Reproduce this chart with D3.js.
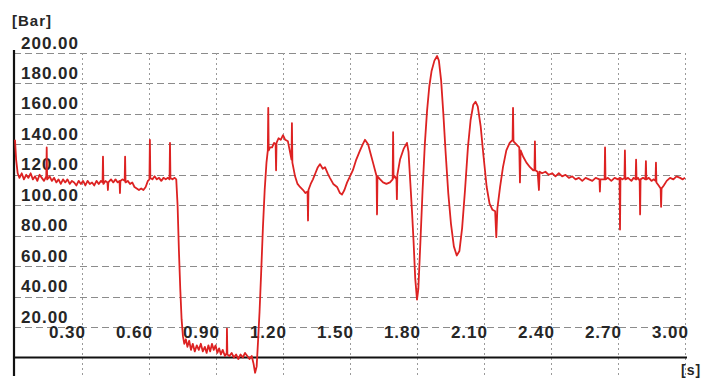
<!DOCTYPE html>
<html lang="en">
<head>
  <meta charset="UTF-8" />
  <title>Pressure trace [Bar] over time [s]</title>
  <script src="https://d3js.org/d3.v7.min.js"></script>
  <style>
    body { margin: 0; background: #fff; }
    svg { display: block; }
    .lbl { font-family: "Liberation Sans", Arial, sans-serif; font-weight: bold; fill: #262626; }
    .grid-h { stroke: #8c8c8c; stroke-width: 1; stroke-dasharray: 7 4; }
    .grid-v { stroke: #9a9a9a; stroke-width: 1; stroke-dasharray: 2 3; }
    .axis-line { stroke: #111; stroke-width: 2.2; }
    .trace { fill: none; stroke: #dd2222; stroke-width: 1.8; stroke-linejoin: round; }
  </style>
</head>
<body>
<div id="chart"></div>

<script>
// Chart size (browser window)
const width = 713, height = 378;

// Tick values
const yTicks = [20, 40, 60, 80, 100, 120, 140, 160, 180, 200];
const xTicks = [0.30, 0.60, 0.90, 1.20, 1.50, 1.80, 2.10, 2.40, 2.70, 3.00];

// Pressure trace, [time s, pressure Bar]
const idleBefore = [
  [0.000,143],[0.005,130],[0.012,121],[0.020,118],[0.030,121],[0.040,117],[0.050,120],[0.060,118],
  [0.070,121],[0.080,117],[0.090,119],[0.100,116],[0.110,120],[0.120,118],[0.130,116],[0.140,119],
  [0.142,138],[0.144,117],[0.155,119],[0.165,116],[0.175,118],[0.185,115],[0.195,117],[0.205,114],
  [0.215,117],[0.225,115],[0.235,117],[0.245,114],[0.255,116],[0.265,115],[0.275,113],[0.285,116],
  [0.295,114],[0.305,116],[0.315,113],[0.325,116],[0.335,114],[0.345,115],[0.355,113],[0.365,116],
  [0.375,114],[0.385,116],[0.392,115],[0.394,132],[0.396,114],[0.405,116],[0.414,115],[0.416,110],
  [0.418,115],[0.430,117],[0.440,115],[0.450,117],[0.460,115],[0.468,116],[0.470,108],[0.472,116],
  [0.482,117],[0.491,116],[0.493,132],[0.495,115],[0.505,116],[0.515,114],[0.525,115],[0.535,112],
  [0.545,111],[0.555,110],[0.565,111],[0.575,110],[0.585,112],[0.595,116],[0.602,117],[0.604,143],
  [0.606,118],[0.615,117],[0.625,119],[0.635,117],[0.645,118],[0.655,116],[0.665,118],[0.675,117],
  [0.685,118],[0.692,117],[0.694,141],[0.696,118],[0.705,117],[0.715,118],[0.722,117]
];

const dropPhase = [
  [0.728,100],[0.734,70],[0.740,45],[0.746,25],[0.752,14],[0.758,9],[0.765,12],[0.772,7],
  [0.780,11],[0.788,5],[0.796,9],[0.805,4],[0.814,8],[0.823,5],[0.832,9],[0.841,4],
  [0.850,7],[0.858,3],[0.866,8],[0.874,4],[0.882,9],[0.890,5],[0.898,8],[0.906,3],
  [0.914,6],[0.922,2],[0.930,5],[0.940,1],[0.948,3],[0.949,19],[0.951,2],[0.960,1],
  [0.970,3],[0.980,0],[0.990,2],[1.000,-1],[1.010,2],[1.020,0],[1.030,3],[1.040,1],
  [1.050,-1],[1.060,1],[1.068,-4],[1.075,-10]
];

const recovery = [
  [1.082,-6],[1.088,10],[1.095,30],[1.102,55],[1.110,85],[1.118,110],[1.126,128],[1.132,136],
  [1.134,164],[1.136,136],[1.142,138],[1.151,138],[1.160,141],[1.167,140],[1.169,123],[1.171,141],
  [1.180,144],[1.190,143],[1.200,146],[1.210,143],[1.222,142],[1.230,136],[1.238,130],[1.240,154],
  [1.242,128],[1.254,119],[1.265,114],[1.276,112],[1.290,110],[1.300,108],[1.310,109],[1.312,90],
  [1.314,110],[1.324,114],[1.334,117],[1.345,121],[1.356,125],[1.366,127],[1.378,124],[1.388,125],
  [1.400,121],[1.410,118],[1.425,114],[1.442,112],[1.455,108],[1.464,107],[1.475,110],[1.487,115],
  [1.500,119],[1.513,123],[1.528,130],[1.545,136],[1.557,140],[1.567,143],[1.581,140],[1.592,134],
  [1.603,128],[1.612,123],[1.619,119],[1.621,94],[1.623,119],[1.635,117],[1.648,115],[1.663,114],
  [1.679,115],[1.691,117],[1.693,148],[1.695,118],[1.701,119],[1.708,117],[1.710,104],[1.712,120],
  [1.724,130],[1.740,137],[1.755,141],[1.762,135],[1.770,115],[1.778,95]
];

const oscillation = [
  [1.785,75],[1.792,52],[1.800,38],[1.806,45],[1.815,75],[1.825,110],[1.835,140],[1.845,162],
  [1.855,178],[1.865,188],[1.878,195],[1.890,198],[1.898,195],[1.908,182],[1.918,160],[1.928,135],
  [1.940,108],[1.952,88],[1.965,73],[1.978,67],[1.990,70],[2.002,85],[2.015,110],[2.028,138],
  [2.040,156],[2.052,166],[2.062,168],[2.072,165],[2.085,152],[2.098,132],[2.112,112],[2.125,101],
  [2.138,97],[2.150,96],[2.155,79],[2.160,98],[2.172,112],[2.185,125],[2.200,136],[2.215,141],
  [2.228,143],[2.230,164],[2.232,142],[2.245,140],[2.258,138],[2.261,115],[2.264,136],[2.275,132],
  [2.290,128],[2.306,125],[2.320,123]
];

const idleAfter = [
  [2.326,123],[2.328,142],[2.330,123],[2.340,122],[2.346,110],[2.349,122],[2.360,121],[2.375,122],
  [2.390,120],[2.405,121],[2.420,119],[2.435,121],[2.450,119],[2.465,120],[2.480,118],[2.495,119],
  [2.510,117],[2.525,118],[2.540,116],[2.555,118],[2.570,117],[2.585,116],[2.600,118],[2.617,117],
  [2.619,109],[2.621,117],[2.640,117],[2.642,138],[2.644,117],[2.655,118],[2.670,116],[2.685,118],
  [2.700,117],[2.707,118],[2.709,84],[2.711,118],[2.720,117],[2.729,118],[2.731,136],[2.733,117],
  [2.745,118],[2.760,116],[2.770,118],[2.779,117],[2.781,130],[2.783,117],[2.790,118],[2.797,116],
  [2.799,94],[2.801,117],[2.812,118],[2.823,117],[2.825,129],[2.827,117],[2.838,118],[2.850,116],
  [2.860,117],[2.868,116],[2.870,128],[2.872,115],[2.882,113],[2.891,111],[2.893,99],[2.895,111],
  [2.905,113],[2.918,116],[2.933,118],[2.948,117],[2.962,119],[2.978,118],[2.990,117],[3.000,118]
];

const trace = [].concat(idleBefore, dropPhase, recovery, oscillation, idleAfter);

// Scales
const x = d3.scaleLinear().domain([0, 3.0]).range([15, 685]);
const y = d3.scaleLinear().domain([0, 200]).range([357.5, 53]);
const fmt = d3.format(".2f");

const svg = d3.select("#chart").append("svg")
  .attr("width", width)
  .attr("height", height);

// Grid lines
svg.append("g").selectAll("line").data(yTicks).join("line")
  .attr("class", "grid-h")
  .attr("x1", 14).attr("x2", x(3.0))
  .attr("y1", d => Math.round(y(d)) + 0.5).attr("y2", d => Math.round(y(d)) + 0.5);

svg.append("g").selectAll("line").data(xTicks).join("line")
  .attr("class", "grid-v")
  .attr("x1", d => Math.round(x(d)) + 0.5).attr("x2", d => Math.round(x(d)) + 0.5)
  .attr("y1", y(200)).attr("y2", height);

// Axis lines
svg.append("line").attr("class", "axis-line")
  .attr("x1", 14).attr("x2", 14).attr("y1", 50).attr("y2", 376);
svg.append("line").attr("class", "axis-line")
  .attr("x1", 13).attr("x2", x(3.0) + 2).attr("y1", y(0)).attr("y2", y(0));

// Y tick labels sit just above their grid line, left aligned
svg.append("g").selectAll("text").data(yTicks).join("text")
  .attr("class", "lbl")
  .attr("x", 21)
  .attr("y", d => y(d) - 4.5)
  .style("font-size", "17px")
  .style("letter-spacing", "1px")
  .text(d => fmt(d));

// X tick labels, right aligned on the grid line
svg.append("g").selectAll("text").data(xTicks).join("text")
  .attr("class", "lbl")
  .attr("x", d => x(d) + 4)
  .attr("y", 338)
  .attr("text-anchor", "end")
  .style("font-size", "17px")
  .style("letter-spacing", "1px")
  .text(d => fmt(d));

// Units
svg.append("text").attr("class", "lbl")
  .attr("x", 12).attr("y", 26)
  .style("font-size", "15px").style("letter-spacing", "1px")
  .text("[Bar]");
svg.append("text").attr("class", "lbl")
  .attr("x", 681).attr("y", 375)
  .style("font-size", "14px").style("letter-spacing", "1px")
  .text("[s]");

// Pressure trace
const line = d3.line().x(d => x(d[0])).y(d => y(d[1]));
svg.append("path").datum(trace)
  .attr("class", "trace")
  .attr("d", line);
</script>
</body>
</html>
